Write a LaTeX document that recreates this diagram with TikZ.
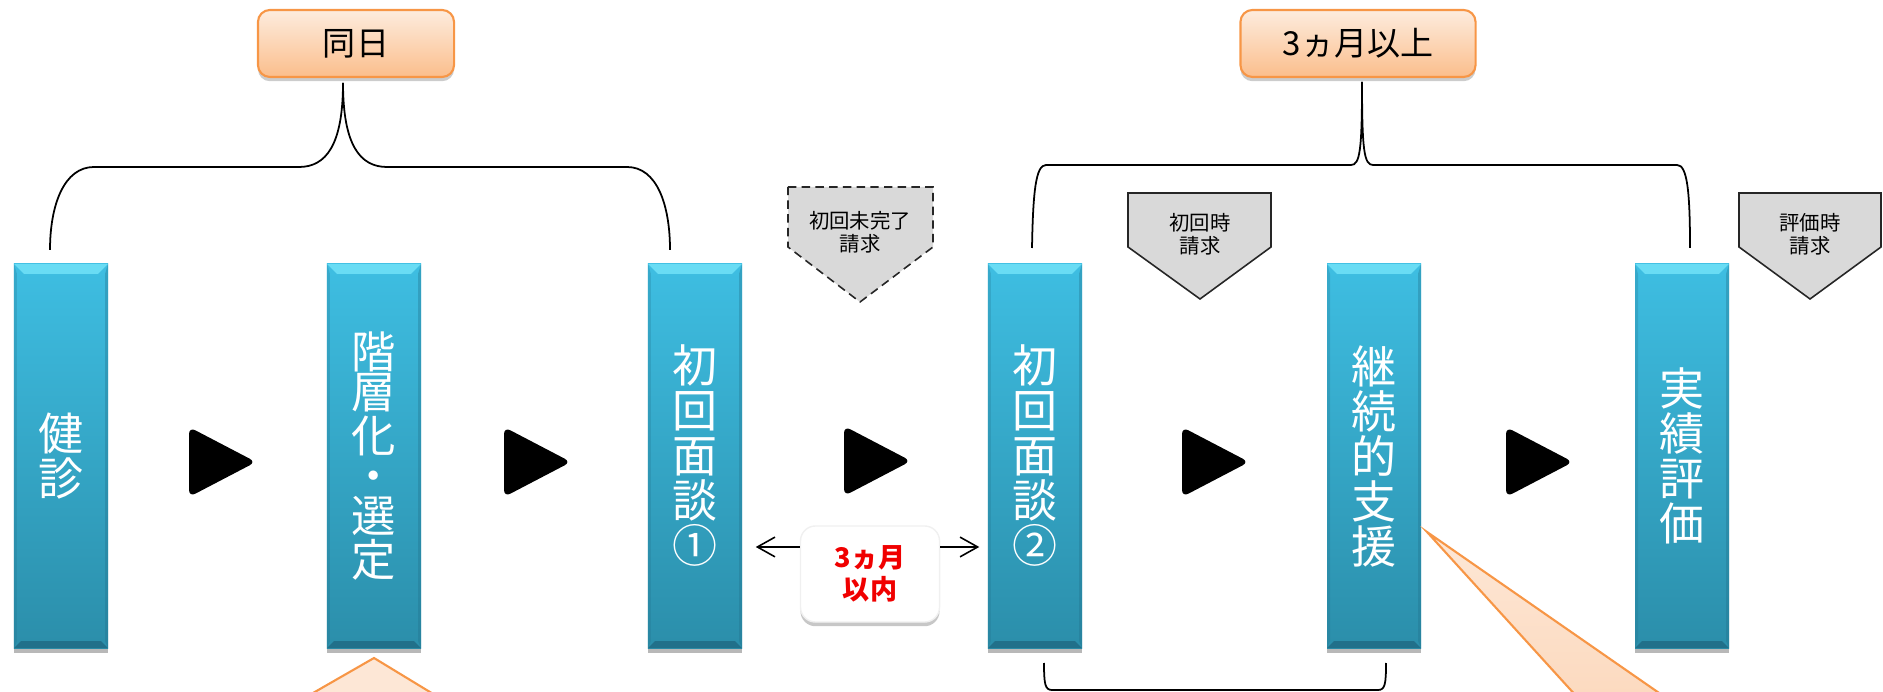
\documentclass[tikz,border=0pt]{standalone}
\usepackage{fontspec}
\newfontfamily\jp{Noto Sans CJK JP}
\usetikzlibrary{shadows,arrows.meta,calc}
\definecolor{barA}{RGB}{62,190,226}
\definecolor{barB}{RGB}{43,142,170}
\definecolor{barHi}{RGB}{105,220,244}
\definecolor{barLo}{RGB}{33,112,138}
\definecolor{orA}{RGB}{253,236,222}
\definecolor{orB}{RGB}{251,190,140}
\definecolor{orLine}{RGB}{247,150,70}
\definecolor{grayF}{RGB}{217,217,217}
\definecolor{peachA}{RGB}{253,231,214}
\definecolor{peachB}{RGB}{252,216,188}
\definecolor{jpRed}{RGB}{240,0,0}
\tikzset{
  bar/.style={rectangle, minimum width=0.94cm, minimum height=3.84cm, inner sep=0pt,
    top color=barA, bottom color=barB,
    drop shadow={shadow xshift=0pt, shadow yshift=-1.4pt, opacity=0.28, fill=black},
    text=white, align=center, font=\jp\fontsize{12.8}{12.8}\selectfont,
    path picture={
      \fill[barHi] (path picture bounding box.north west) -- (path picture bounding box.north east)
        -- ([shift={(-0.1cm,-0.1cm)}]path picture bounding box.north east)
        -- ([shift={(0.1cm,-0.1cm)}]path picture bounding box.north west) -- cycle;
      \fill[barLo] (path picture bounding box.south west) -- (path picture bounding box.south east)
        -- ([shift={(-0.07cm,0.07cm)}]path picture bounding box.south east)
        -- ([shift={(0.07cm,0.07cm)}]path picture bounding box.south west) -- cycle;
      \fill[barLo, opacity=0.35] (path picture bounding box.north east)
        -- ([shift={(-0.03cm,-0.1cm)}]path picture bounding box.north east)
        -- ([shift={(-0.03cm,0.07cm)}]path picture bounding box.south east)
        -- (path picture bounding box.south east) -- cycle;
      \fill[barLo, opacity=0.25] (path picture bounding box.north west)
        -- ([shift={(0.03cm,-0.1cm)}]path picture bounding box.north west)
        -- ([shift={(0.03cm,0.07cm)}]path picture bounding box.south west)
        -- (path picture bounding box.south west) -- cycle;
    }},
  obox/.style={rectangle, rounded corners=0.12cm, draw=orLine, line width=0.6pt,
    top color=orA, bottom color=orB, minimum height=0.67cm, inner sep=0pt,
    drop shadow={shadow xshift=0pt, shadow yshift=-1.2pt, opacity=0.2, fill=black},
    font=\jp\fontsize{9.4}{10}\selectfont},
  wbox/.style={rectangle, rounded corners=0.15cm, fill=white, draw=black!6,
    minimum width=1.39cm, minimum height=0.96cm, inner sep=0pt, align=center,
    drop shadow={shadow xshift=0pt, shadow yshift=-1.2pt, opacity=0.22, fill=black},
    text=jpRed, font=\jp\bfseries\fontsize{7.7}{9.1}\selectfont},
  gtext/.style={align=center, inner sep=0pt, font=\jp\fontsize{5.8}{6.6}\selectfont},
  gshape/.style={fill=grayF, draw=black!85, line width=0.45pt},
  brace/.style={draw=black, line width=0.5pt},
  playtri/.style={fill=black, rounded corners=2pt},
  arr/.style={draw=black, line width=0.45pt, -{Straight Barb[length=5pt,width=5.6pt]}},
  callout/.style={draw=orLine, line width=0.6pt}
}
\begin{document}
\begin{tikzpicture}[x=0.01cm,y=-0.01cm]
\useasboundingbox (0,0) rectangle (1883,692);
\clip (0,0) rectangle (1883,692);

% top label boxes
\node[obox, minimum width=1.96cm] (t1) at (356,43.5) {同日};
\node[obox, minimum width=2.35cm] (t2) at (1358,43.5) {3ヵ月以上};

% brace tips and ends
\coordinate (t1tip) at (343,83);
\coordinate (t1l) at (50,250);
\coordinate (t1r) at (670,250);
\coordinate (t2tip) at (1362,82);
\coordinate (t2l) at (1032,248);
\coordinate (t2r) at (1690,248);
\coordinate (bbl) at (1044,663);
\coordinate (bbr) at (1386,663);

\path[brace] (t1tip) .. controls (343,145) and (326,167) .. (299,167) -- (94,167)
   .. controls (64,167) and (50,205) .. (t1l);
\path[brace] (t1tip) .. controls (343,145) and (360,167) .. (387,167) -- (627,167)
   .. controls (657,167) and (670,205) .. (t1r);
\path[brace] (t2tip) .. controls (1362,150) and (1360,165) .. (1351,165) -- (1046,165)
   .. controls (1036,165) and (1033,190) .. (t2l);
\path[brace] (t2tip) .. controls (1362,150) and (1364,165) .. (1373,165) -- (1677,165)
   .. controls (1687,165) and (1690,190) .. (t2r);
\path[brace] (bbl) .. controls (1044,684) and (1045,690) .. (1052,690) -- (1378,690)
   .. controls (1385,690) and (1386,684) .. (bbr);

% gray pentagon callouts
\path[gshape, dashed, dash pattern=on 2.4pt off 1.5pt] (788,187) -- (933,187) -- (933,247) -- (860,302) -- (788,247) -- cycle;
\path[gshape] (1128,193) -- (1271,193) -- (1271,247) -- (1200,299) -- (1128,247) -- cycle;
\path[gshape] (1739,193) -- (1881,193) -- (1881,247) -- (1810,299) -- (1739,247) -- cycle;
\node[gtext] (g1) at (860,232) {初回未完了\\請求};
\node[gtext] (g2) at (1200,234) {初回時\\請求};
\node[gtext] (g3) at (1810,234) {評価時\\請求};

% bars
\node[bar] (b1) at (61,456) {健\\診};
\node[bar, font=\jp\fontsize{12.6}{11.4}\selectfont] (b2) at (374,456) {階\\層\\化\\・\\選\\定};
\node[bar] (b3) at (695,456) {初\\回\\面\\談\\①};
\node[bar] (b4) at (1035,456) {初\\回\\面\\談\\②};
\node[bar] (b5) at (1374,456) {継\\続\\的\\支\\援};
\node[bar] (b6) at (1682,456) {実\\績\\評\\価};

% play triangles
\path[playtri] (189,427) -- (256,462) -- (189,497) -- cycle;
\path[playtri] (504,427) -- (571,462) -- (504,497) -- cycle;
\path[playtri] (844,426) -- (911,461) -- (844,496) -- cycle;
\path[playtri] (1182,427) -- (1249,462) -- (1182,497) -- cycle;
\path[playtri] (1506,427) -- (1573,462) -- (1506,497) -- cycle;

% 3ヵ月以内 box with arrows
\node[wbox] (m) at (870,574) {3ヵ月\\以内};
\path[arr, shorten >=0.13cm] ([yshift=0.27cm]m.west) -- ([yshift=0.27cm]m.west -| b3.east);
\path[arr, shorten >=0.08cm] ([yshift=0.27cm]m.east) -- ([yshift=0.27cm]m.east -| b4.west);

% orange callout pointers
\path[callout, fill=peachA] (374,658) -- (476,720) -- (266,720) -- cycle;
\path[callout, top color=peachA, bottom color=peachB] (1427,532) -- (1698,720) -- (1598,720) -- cycle;
\end{tikzpicture}
\end{document}
